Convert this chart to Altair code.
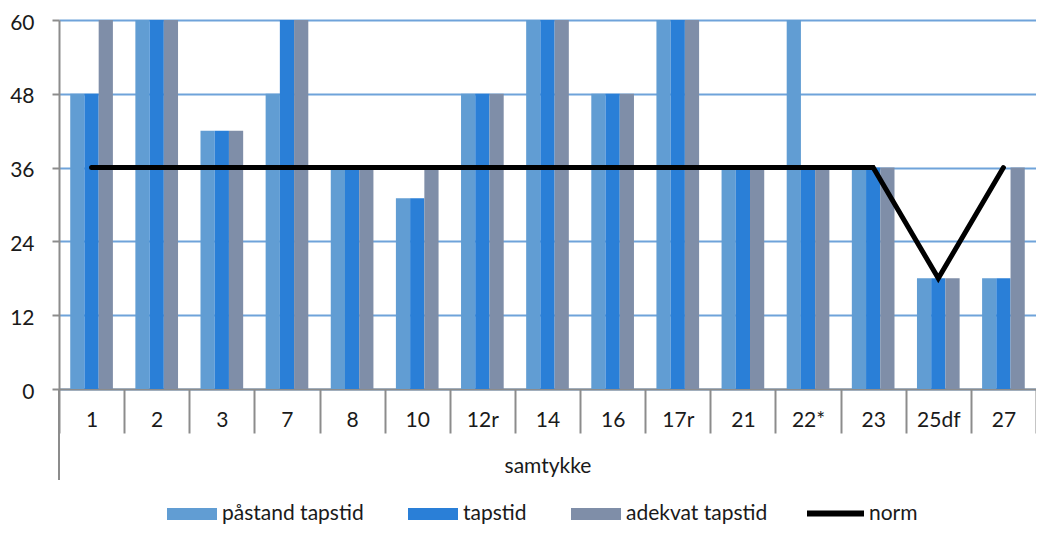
import altair as alt
import pandas as pd

categories = ["1", "2", "3", "7", "8", "10", "12r", "14", "16", "17r", "21", "22*", "23", "25df", "27"]
series_names = ["påstand tapstid", "tapstid", "adekvat tapstid"]
paastand = [48, 60, 42, 48, 36, 31, 48, 60, 48, 60, 36, 60, 36, 18, 18]
tapstid = [48, 60, 42, 60, 36, 31, 48, 60, 48, 60, 36, 36, 36, 18, 18]
adekvat = [60, 60, 42, 60, 36, 36, 48, 60, 48, 60, 36, 36, 36, 18, 36]
norm = [36, 36, 36, 36, 36, 36, 36, 36, 36, 36, 36, 36, 36, 18, 36]
colors = ["#619dd3", "#2a7fd7", "#7f8ea8"]
y_ticks = [0, 12, 24, 36, 48, 60]

rows = []
for name, vals in zip(series_names, [paastand, tapstid, adekvat]):
    for c, v in zip(categories, vals):
        rows.append({"cat": c, "series": name, "value": v})
bars_df = pd.DataFrame(rows)
norm_df = pd.DataFrame({"cat": categories, "norm": norm, "name": ["norm"] * len(categories)})

FONT = "Lato"
TXT = "#1a1a1a"
x_enc = alt.X(
    "cat:N", sort=categories, title="samtykke",
    scale=alt.Scale(paddingInner=0, paddingOuter=0),
    axis=alt.Axis(
        labelAngle=0, tickBand="extent", tickSize=44, tickWidth=2, tickColor="#8c8c8c",
        domainColor="#8c8c8c", domainWidth=2, labelPadding=-13, labelBaseline="middle",
        labelFontSize=21, labelFont=FONT, labelColor=TXT,
        titleFontSize=21, titleFont=FONT, titleFontWeight="normal", titleColor=TXT,
        titlePadding=21, grid=False,
    ),
)
y_enc = alt.Y(
    "value:Q", title=None,
    scale=alt.Scale(domain=[0, 60], nice=False),
    axis=alt.Axis(
        values=y_ticks, tickSize=7, tickWidth=2, tickColor="#8c8c8c", domainColor="#8c8c8c",
        domainWidth=2, labelPadding=18, labelOffset=3, labelFontSize=21, labelFont=FONT,
        labelColor=TXT, grid=True, gridColor="#6fa3da", gridWidth=2,
    ),
)

bars = alt.Chart(bars_df).mark_bar().encode(
    x=x_enc,
    xOffset=alt.XOffset("series:N", sort=series_names, scale=alt.Scale(paddingInner=0, paddingOuter=0.79)),
    y=y_enc,
    fill=alt.Fill(
        "series:N", sort=series_names,
        scale=alt.Scale(domain=series_names, range=colors),
        legend=alt.Legend(
            title=None, orient="none", legendX=108, legendY=469, direction="horizontal",
            symbolType="M-1,-0.24H1V0.24H-1Z", symbolSize=2500, symbolStrokeWidth=0,
            labelFontSize=21, labelFont=FONT, labelColor=TXT, labelOffset=5, columnPadding=44,
        ),
    ),
)

line = alt.Chart(norm_df).mark_line(strokeWidth=5, strokeCap="round", strokeJoin="miter").encode(
    x=alt.X("cat:N", sort=categories),
    y=alt.Y("norm:Q"),
    stroke=alt.Stroke(
        "name:N", scale=alt.Scale(domain=["norm"], range=["#000000"]),
        legend=alt.Legend(
            title=None, orient="none", legendX=745, legendY=462,
            symbolType="stroke", symbolSize=3249, symbolStrokeWidth=6,
            labelFontSize=21, labelFont=FONT, labelColor=TXT, labelOffset=2,
        ),
    ),
)

axis_ext = alt.Chart(pd.DataFrame({"a": [0]})).mark_rule(color="#8c8c8c", strokeWidth=2).encode(
    x=alt.value(0), y=alt.value(369), y2=alt.value(460)
)

chart = alt.layer(bars, line, axis_ext).properties(
    width=977, height=369,
    autosize=alt.AutoSizeParams(type="none"),
    padding={"left": 51, "top": 12, "right": 0, "bottom": 137},
).configure_view(stroke=None).resolve_scale(x="shared")

chart.save("out.html", embed_options={"renderer": "svg", "actions": False})
